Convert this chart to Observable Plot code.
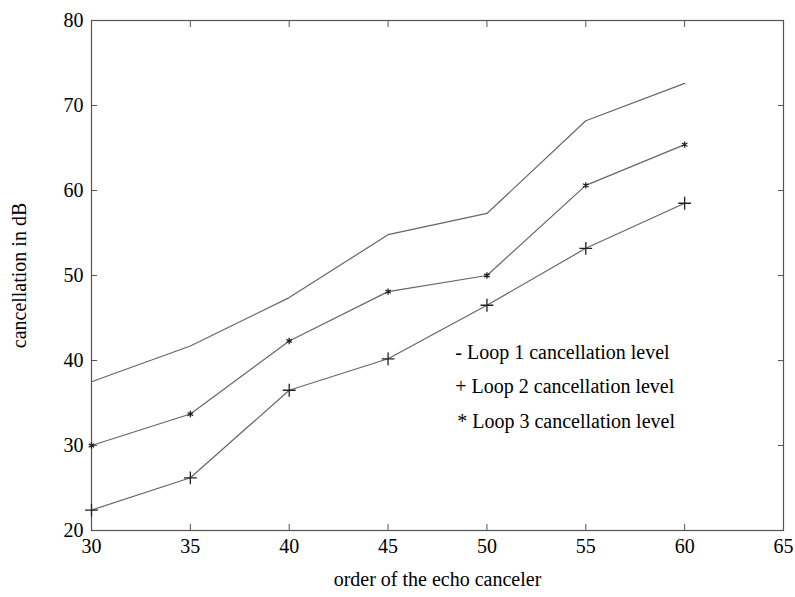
<!DOCTYPE html>
<html>
<head>
<meta charset="utf-8">
<script src="https://cdn.jsdelivr.net/npm/d3@7"></script>
<script src="https://cdn.jsdelivr.net/npm/@observablehq/plot@0.6"></script>
<style>
  html, body { margin: 0; padding: 0; background: #fff; }
  svg { font-family: "Liberation Serif", "DejaVu Serif", serif; }
</style>
</head>
<body>
<div id="chart"></div>
<script>
const order = [30, 35, 40, 45, 50, 55, 60];
const loop1 = [37.5, 41.7, 47.4, 54.8, 57.3, 68.2, 72.6];
const loop2 = [30.0, 33.7, 42.3, 48.1, 50.0, 60.6, 65.4];
const loop3 = [22.4, 26.2, 36.5, 40.2, 46.5, 53.2, 58.5];
const xTicks = [30, 35, 40, 45, 50, 55, 60, 65];
const yTicks = [20, 30, 40, 50, 60, 70, 80];
const legendLabels = ["- Loop 1 cancellation level", "+ Loop 2 cancellation level", "* Loop 3 cancellation level"];
const legendX = [48.4, 48.4, 48.5];
const legendY = [40.9, 36.9, 32.8];

const rows = (vals, name) => order.map((x, i) => ({x, y: vals[i], name}));
const d1 = rows(loop1, "Loop 1");
const d2 = rows(loop2, "Loop 2");
const d3 = rows(loop3, "Loop 3");
const legend = legendLabels.map((t, i) => ({t, x: legendX[i], y: legendY[i]}));

const lineColor = "#666";
const axisColor = "#555";

const chart = Plot.plot({
  width: 795,
  height: 597,
  marginLeft: 91,
  marginRight: 12,
  marginTop: 20,
  marginBottom: 67,
  style: {fontFamily: "'Liberation Serif', serif", color: "#000", background: "#fff"},
  x: {domain: [30, 65]},
  y: {domain: [20, 80]},
  marks: [
    Plot.frame({stroke: axisColor, strokeWidth: 1.2}),
    Plot.axisX({ticks: xTicks, tickSize: -6, tickPadding: 14, fontSize: 20, stroke: axisColor, fill: "#000",
      label: "order of the echo canceler", labelAnchor: "center", labelArrow: "none", labelOffset: 55}),
    Plot.axisX({anchor: "top", ticks: xTicks, tickSize: -6, tickFormat: () => "", label: null, stroke: axisColor}),
    Plot.axisY({ticks: yTicks, tickSize: -6, tickPadding: 14, fontSize: 20, stroke: axisColor, fill: "#000",
      label: "cancellation in dB", labelAnchor: "center", labelArrow: "none", labelOffset: 80}),
    Plot.axisY({anchor: "right", ticks: yTicks, tickSize: -6, tickFormat: () => "", label: null, stroke: axisColor}),
    Plot.line(d1, {x: "x", y: "y", stroke: lineColor, strokeWidth: 1.2}),
    Plot.line(d2, {x: "x", y: "y", stroke: lineColor, strokeWidth: 1.2}),
    Plot.line(d3, {x: "x", y: "y", stroke: lineColor, strokeWidth: 1.2}),
    Plot.dot(d2, {x: "x", y: "y", symbol: "asterisk", r: 3, stroke: "#222", strokeWidth: 1.3}),
    Plot.dot(d3, {x: "x", y: "y", symbol: "plus", r: 4.2, stroke: "#222", strokeWidth: 1.3}),
    Plot.text(legend, {x: "x", y: "y", text: "t", textAnchor: "start", fontSize: 20, fill: "#000"})
  ]
});
document.getElementById("chart").appendChild(chart);
</script>
</body>
</html>
